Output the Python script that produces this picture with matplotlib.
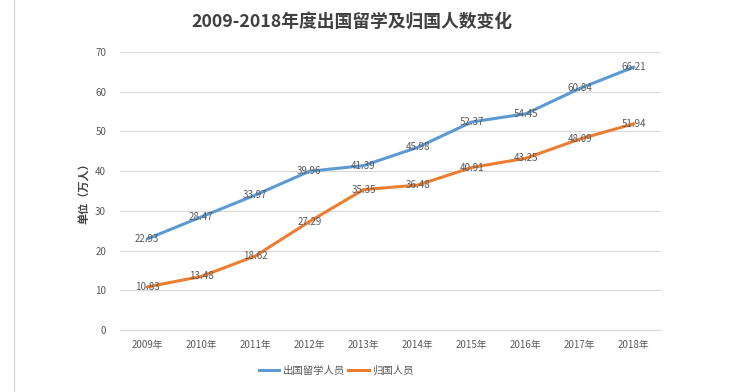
import matplotlib
matplotlib.use('Agg')
import matplotlib.pyplot as plt
from matplotlib.lines import Line2D

plt.rcParams['font.family'] = ['Noto Sans CJK SC', 'DejaVu Sans']

years = ['2009年', '2010年', '2011年', '2012年', '2013年', '2014年', '2015年', '2016年', '2017年', '2018年']
go_abroad = [22.93, 28.47, 33.97, 39.96, 41.39, 45.98, 52.37, 54.45, 60.84, 66.21]
returned = [10.83, 13.48, 18.62, 27.29, 35.35, 36.48, 40.91, 43.25, 48.09, 51.94]
yticks = [0, 10, 20, 30, 40, 50, 60, 70]

blue = '#5b9bd5'
orange = '#ed7d31'
txt = '#595959'

fig = plt.figure(figsize=(7.3, 3.92), dpi=100)
ax = fig.add_axes([120 / 730, 1 - 330 / 392, 541 / 730, 278 / 392])

x = range(len(years))
ax.plot(x, go_abroad, color=blue, lw=2.2, solid_capstyle='round', zorder=3)
ax.plot(x, returned, color=orange, lw=2.2, solid_capstyle='round', zorder=3)

# 数据标签
for i in x:
    ax.text(i, go_abroad[i], f'{go_abroad[i]:.2f}', ha='center', va='center', fontsize=7, color=txt, zorder=4)
    ax.text(i, returned[i], f'{returned[i]:.2f}', ha='center', va='center', fontsize=7, color=txt, zorder=4)

ax.set_xlim(-0.5, len(years) - 0.5)
ax.set_ylim(0, 70)
ax.set_yticks(yticks)
ax.set_xticks(list(x))
ax.set_xticklabels(years)
ax.grid(axis='y', color='#d9d9d9', lw=0.8)
ax.set_axisbelow(True)
for s in ['top', 'right', 'left']:
    ax.spines[s].set_visible(False)
ax.spines['bottom'].set_color('#d9d9d9')
ax.tick_params(axis='both', length=0, labelsize=7, colors=txt)
ax.tick_params(axis='y', pad=10)
ax.tick_params(axis='x', pad=7)

ax.set_ylabel('单位（万人）', fontsize=8, fontweight='bold', color='#404040', labelpad=3)

fig.text(352 / 730, 1 - 22 / 392, '2009-2018年度出国留学及归国人数变化', ha='center', va='center',
         fontsize=12.8, fontweight='bold', color='#404040')

handles = [Line2D([], [], color=blue, lw=2.2), Line2D([], [], color=orange, lw=2.2)]
fig.legend(handles, ['出国留学人员', '归国人员'], loc='center', bbox_to_anchor=(336 / 730, 1 - 371 / 392),
           ncol=2, frameon=False, fontsize=7.5, handlelength=2.0, handletextpad=0.3, columnspacing=0.3,
           labelcolor=txt)

fig.add_artist(Line2D([14 / 730, 14 / 730], [0, 1], color='#d0d0d0', lw=0.8))

fig.savefig('out.png', dpi=100, facecolor='white')
